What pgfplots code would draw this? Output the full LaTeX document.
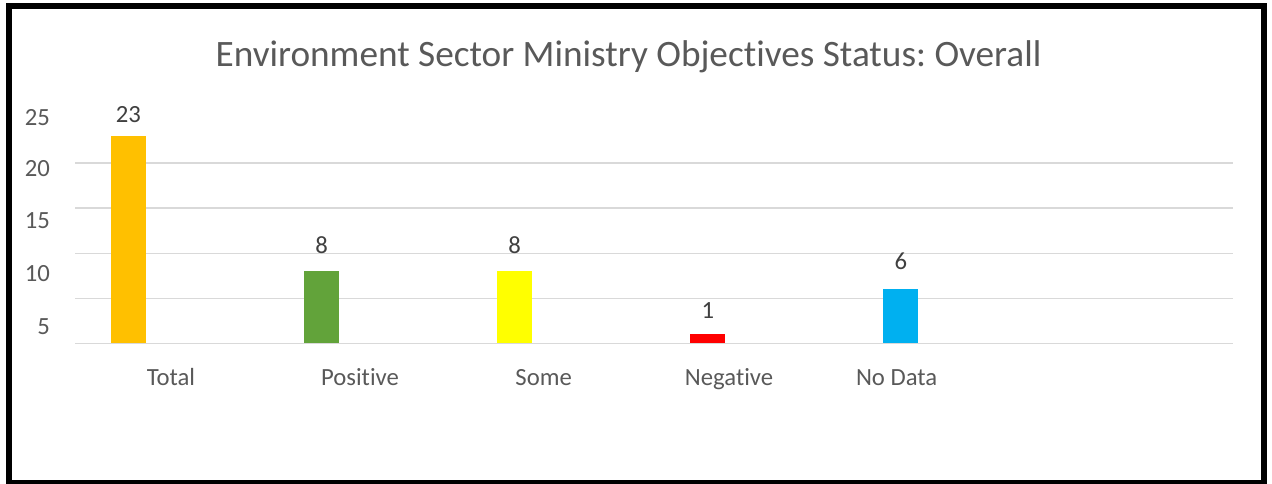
\documentclass[border=0pt]{standalone}
\usepackage{fontspec}
\setmainfont{Carlito}[Ligatures={NoCommon}]
\usepackage{pgfplots}
\pgfplotsset{compat=1.18}
\frenchspacing
\definecolor{txt}{HTML}{595959}
\definecolor{lbl}{HTML}{404040}
\definecolor{grd}{HTML}{D9D9D9}
\definecolor{cTotal}{HTML}{FFC000}
\definecolor{cPos}{HTML}{62A33A}
\definecolor{cSome}{HTML}{FFFF00}
\definecolor{cNeg}{HTML}{FF0000}
\definecolor{cNo}{HTML}{00B0F0}
\begin{document}
\frenchspacing
\begin{tikzpicture}[x=1bp,y=1bp]
\useasboundingbox (0,0) rectangle (1272,484);
\draw[line width=6bp] (9,1) rectangle (1263.5,478);
\begin{axis}[
  at={(75bp,140.5bp)}, anchor=south west,
  scale only axis, width=1158bp, height=225.5bp,
  xmin=-0.277, xmax=5.72, ymin=0, ymax=25,
  /pgf/number format/assume math mode=true,
  axis line style={draw=none},
  tick style={draw=none}, major tick length=0pt,
  xtick={0.220,1.199,2.150,3.110,3.978},
  xticklabels={Total,Positive,Some,Negative,No Data},
  ytick={1.83,7.8,13.6,19.4,25},
  yticklabels={5,10,15,20,25},
  extra y ticks={0,5,10,15,20},
  extra y tick labels={},
  extra y tick style={ymajorgrids=true, major grid style={grd, line width=1.5bp}},
  ticklabel style={font=\fontsize{24.8}{30}\selectfont, text=txt},
  xticklabel style={anchor=base, inner sep=0pt, yshift=-42.5bp},
  yticklabel style={anchor=east, inner sep=0pt, xshift=-25bp},
  title={Environment Sector Ministry Objectives Status: Overall},
  every axis title/.style={at={(0.478,1)}, anchor=base, yshift=51bp, inner sep=0pt,
    font=\fontsize{37.4}{44}\selectfont, text=txt},
  ybar, bar width=35bp, bar shift=0pt,
  nodes near coords,
  nodes near coords style={anchor=south, inner sep=0pt,
    font=\fontsize{24.8}{30}\selectfont, text=lbl},
]
\addplot[fill=cTotal, draw=none, nodes near coords style={yshift=13bp}] coordinates {(0,23)};
\addplot[fill=cPos, draw=none, nodes near coords style={yshift=17bp}] coordinates {(1,8)};
\addplot[fill=cSome, draw=none, nodes near coords style={yshift=17bp}] coordinates {(2,8)};
\addplot[fill=cNeg, draw=none, nodes near coords style={yshift=16bp}] coordinates {(3,1)};
\addplot[fill=cNo, draw=none, nodes near coords style={yshift=19bp}] coordinates {(4,6)};
\end{axis}
\end{tikzpicture}
\end{document}
